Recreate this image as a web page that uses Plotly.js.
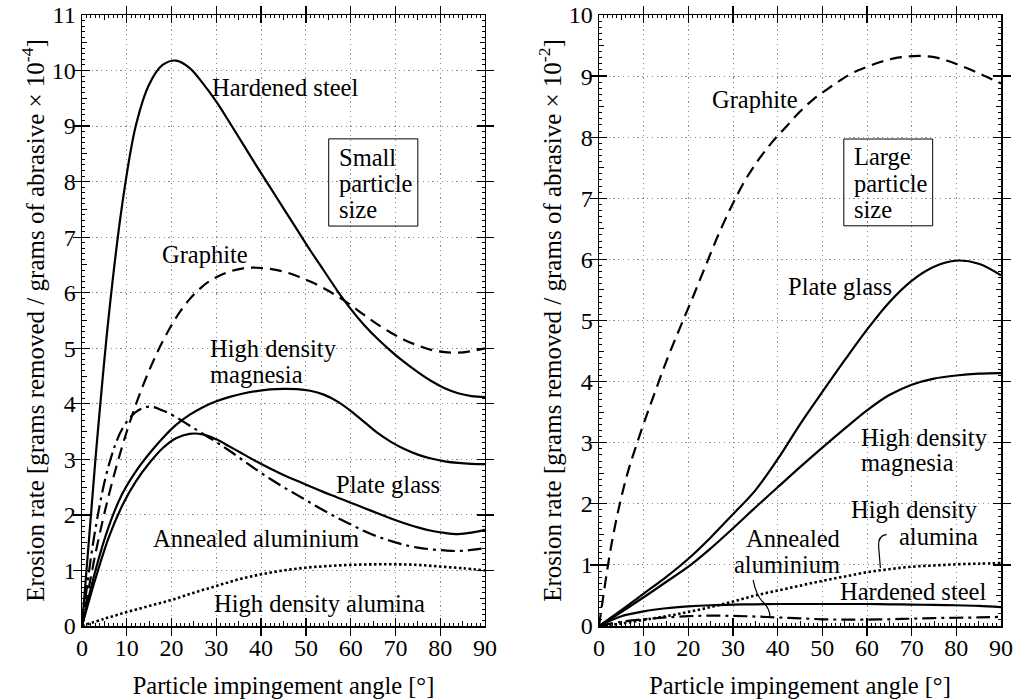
<!DOCTYPE html>
<html>
<head>
<meta charset="utf-8">
<script src="https://cdn.plot.ly/plotly-3.0.1.min.js"></script>
<style>html,body{margin:0;padding:0;background:#fff;}</style>
</head>
<body>
<div id="chart" style="width:1014px;height:699px;"></div>
<script>
// ---------- Left panel: small particle size (x 10^-4) ----------
const smallAngles = [0,3,6,9,12,15,18,21,24,27,30,33,36,39,42,45,48,51,54,57,60,63,66,69,72,75,78,81,84,87,90];
const smallSteelY = [0,3.0,5.6,7.6,9.0,9.75,10.1,10.18,10.05,9.77,9.44,9.06,8.67,8.28,7.9,7.52,7.14,6.76,6.4,6.04,5.71,5.42,5.17,4.95,4.75,4.57,4.41,4.28,4.19,4.14,4.12];
const smallGraphiteY = [0,1.3,2.36,3.24,3.98,4.6,5.12,5.55,5.88,6.12,6.28,6.38,6.44,6.45,6.43,6.38,6.3,6.2,6.08,5.94,5.78,5.6,5.43,5.28,5.15,5.05,4.97,4.93,4.92,4.95,5.0];
const smallMagnesiaY = [0,1.0,1.8,2.38,2.78,3.1,3.38,3.62,3.8,3.94,4.045,4.125,4.185,4.23,4.26,4.27,4.265,4.235,4.165,4.045,3.875,3.675,3.475,3.315,3.185,3.085,3.015,2.965,2.935,2.92,2.915];
const smallGlassY = [0,0.85,1.6,2.17,2.6,2.93,3.2,3.38,3.46,3.45,3.36,3.23,3.095,2.96,2.835,2.72,2.615,2.51,2.41,2.315,2.22,2.125,2.03,1.935,1.85,1.775,1.715,1.675,1.655,1.68,1.73];
const smallAluminiumY = [0,1.75,2.9,3.55,3.85,3.95,3.88,3.76,3.61,3.46,3.31,3.15,2.98,2.81,2.65,2.5,2.36,2.22,2.08,1.95,1.83,1.71,1.61,1.53,1.46,1.41,1.38,1.36,1.35,1.37,1.4];

const aluminaAngles = [0,5,10,15,20,25,30,35,40,45,50,55,60,65,70,75,80,85,90];
const smallAluminaY = [0,0.13,0.25,0.36,0.47,0.6,0.72,0.84,0.93,1.0,1.05,1.08,1.1,1.11,1.11,1.1,1.07,1.04,1.0];

// ---------- Right panel: large particle size (x 10^-2) ----------
const largeGraphiteX = [0,3,6,9,12,15,18,21,24,27,30,33,36,39,42,45,48,51,54,57,60,63,66,69,72,75,78,81,84,87,90];
const largeGraphiteY = [0,1.42,2.4,3.1,3.72,4.32,4.86,5.38,5.92,6.45,6.92,7.33,7.66,7.94,8.18,8.42,8.62,8.78,8.93,9.06,9.15,9.23,9.29,9.32,9.33,9.31,9.25,9.17,9.08,8.98,8.88];

const largeAngles = [0,5,10,15,20,25,30,35,40,45,50,55,60,65,70,75,80,85,90];
const largeGlassY = [0,0.26,0.53,0.8,1.1,1.45,1.83,2.22,2.73,3.3,3.83,4.35,4.85,5.3,5.65,5.88,5.98,5.93,5.74];
const largeMagnesiaY = [0,0.23,0.47,0.72,0.97,1.27,1.6,1.94,2.27,2.6,2.92,3.23,3.53,3.78,3.95,4.05,4.1,4.13,4.14];
const largeAluminaY = [0,0.04,0.1,0.16,0.23,0.31,0.4,0.5,0.58,0.66,0.74,0.81,0.88,0.93,0.97,0.99,1.01,1.02,1.03];
const largeSteelY = [0,0.16,0.24,0.29,0.32,0.34,0.35,0.355,0.36,0.36,0.36,0.36,0.36,0.355,0.35,0.345,0.34,0.33,0.31];
const largeAluminiumY = [0,0.07,0.11,0.14,0.16,0.17,0.165,0.155,0.14,0.125,0.11,0.105,0.105,0.11,0.12,0.13,0.135,0.14,0.15];

const xTickVals = [0,10,20,30,40,50,60,70,80,90];
const yTickValsLeft = [0,1,2,3,4,5,6,7,8,9,10,11];
const yTickValsRight = [0,1,2,3,4,5,6,7,8,9,10];

const FONT = 'Liberation Serif, Times New Roman, serif';
const solid = {color:'#000', width:2.2, shape:'spline', smoothing:1};
const dashed = {color:'#000', width:2.2, dash:'12px,7px', shape:'spline', smoothing:1};
const dashdot = {color:'#000', width:2.2, dash:'14px,5px,3px,5px', shape:'spline', smoothing:1};
const dotted = {color:'#000', width:2.6, dash:'2.5px,2.5px', shape:'spline', smoothing:1};

function tr(x, y, line, xa, ya, name){
  return {x:x, y:y, type:'scatter', mode:'lines', line:line, xaxis:xa, yaxis:ya, name:name, hoverinfo:'skip'};
}
function dummy(xa, ya){
  return {x:[0], y:[0], type:'scatter', mode:'markers', marker:{opacity:0, size:1}, xaxis:xa, yaxis:ya, hoverinfo:'skip'};
}

const data = [
  tr(smallAngles, smallSteelY, solid, 'x', 'y', 'Hardened steel'),
  tr(smallAngles, smallGraphiteY, dashed, 'x', 'y', 'Graphite'),
  tr(smallAngles, smallMagnesiaY, solid, 'x', 'y', 'High density magnesia'),
  tr(smallAngles, smallGlassY, solid, 'x', 'y', 'Plate glass'),
  tr(smallAngles, smallAluminiumY, dashdot, 'x', 'y', 'Annealed aluminium'),
  tr(aluminaAngles, smallAluminaY, dotted, 'x', 'y', 'High density alumina'),
  tr(largeGraphiteX, largeGraphiteY, dashed, 'x2', 'y2', 'Graphite'),
  tr(largeAngles, largeGlassY, solid, 'x2', 'y2', 'Plate glass'),
  tr(largeAngles, largeMagnesiaY, solid, 'x2', 'y2', 'High density magnesia'),
  tr(largeAngles, largeAluminaY, dotted, 'x2', 'y2', 'High density alumina'),
  tr(largeAngles, largeSteelY, solid, 'x2', 'y2', 'Hardened steel'),
  tr(largeAngles, largeAluminiumY, dashdot, 'x2', 'y2', 'Annealed aluminium'),
  dummy('x3','y'), dummy('x','y3'), dummy('x4','y2'), dummy('x2','y4')
];

const gridStyle = {showgrid:true, gridcolor:'#8a8a8a', griddash:'1.2px,3.6px', gridwidth:1};

function xAxis(domain, anchor){
  return Object.assign({
    domain:domain, anchor:anchor, range:[0,90], autorange:false, tickvals:xTickVals, ticktext:xTickVals.map(String),
    ticks:'inside', ticklen:8, tickwidth:1.3, tickcolor:'#000',
    showline:true, linecolor:'#000', linewidth:1.5, mirror:'allticks',
    zeroline:false, tickfont:{family:FONT, size:24, color:'#000'},
    title:{text:'Particle impingement angle [°]', font:{family:FONT, size:24.5, color:'#000'}, standoff:16},
    fixedrange:true
  }, gridStyle);
}
function yAxis(range, vals, anchor, exp){
  return Object.assign({
    anchor:anchor, range:range, autorange:false, tickvals:vals, ticktext:vals.map(String),
    ticks:'inside', ticklen:8, tickwidth:1.3, tickcolor:'#000',
    showline:true, linecolor:'#000', linewidth:1.5, mirror:'allticks',
    zeroline:false, tickfont:{family:FONT, size:24, color:'#000'},
    title:{text:'Erosion rate [grams removed / grams of abrasive × 10<sup>'+exp+'</sup>]', font:{family:FONT, size:25, color:'#000'}, standoff:0},
    fixedrange:true
  }, gridStyle);
}
// secondary axes carrying the medium and small ticks
function xMinor(overlay, anchor){
  return {overlaying:overlay, anchor:anchor, side:'bottom', range:[0,90], autorange:false,
    tickmode:'linear', tick0:0, dtick:5, ticks:'inside', ticklen:5, tickwidth:1, tickcolor:'#000',
    showticklabels:false, showgrid:false, zeroline:false, showline:true, linecolor:'#000', linewidth:1.5, mirror:'allticks',
    minor:{tick0:0, dtick:1, ticks:'inside', ticklen:3, tickwidth:1, tickcolor:'#000', showgrid:false},
    fixedrange:true};
}
function yMinor(overlay, anchor, range){
  return {overlaying:overlay, anchor:anchor, side:'left', range:range, autorange:false,
    tickmode:'linear', tick0:0, dtick:0.5, ticks:'inside', ticklen:5, tickwidth:1, tickcolor:'#000',
    showticklabels:false, showgrid:false, zeroline:false, showline:true, linecolor:'#000', linewidth:1.5, mirror:'allticks',
    minor:{tick0:0, dtick:0.1, ticks:'inside', ticklen:3, tickwidth:1, tickcolor:'#000', showgrid:false},
    fixedrange:true};
}

const FS = 24.5;
const af = {family:FONT, size:FS, color:'#000'};
function ann(xref, yref, x, y, text, xanchor){
  return {xref:xref, yref:yref, x:x, y:y, text:text, showarrow:false, font:af,
          xanchor:xanchor||'center', yanchor:'middle'};
}

const annotations = [
  ann('x','y',45.3,9.69,'Hardened steel'),
  ann('x','y',27.5,6.68,'Graphite'),
  ann('x','y',28.1,4.99,'High density','left'),
  ann('x','y',28.1,4.52,'magnesia','left'),
  ann('x','y',68.3,2.54,'Plate glass'),
  ann('x','y',38.8,1.58,'Annealed aluminium'),
  ann('x','y',53.1,0.41,'High density alumina'),
  ann('x','y',56.9,8.44,'Small','left'),
  ann('x','y',56.9,7.97,'particle','left'),
  ann('x','y',56.9,7.49,'size','left'),

  ann('x2','y2',34.9,8.61,'Graphite'),
  ann('x2','y2',53.9,5.55,'Plate glass'),
  ann('x2','y2',58.2,3.09,'High density','left'),
  ann('x2','y2',58.2,2.68,'magnesia','left'),
  ann('x2','y2',85.2,1.9,'High density','right'),
  ann('x2','y2',85.2,1.46,'alumina','right'),
  ann('x2','y2',54.4,1.44,'Annealed','right'),
  ann('x2','y2',54.4,1.01,'aluminium','right'),
  ann('x2','y2',70.3,0.56,'Hardened steel'),
  ann('x2','y2',56.6,7.68,'Large','left'),
  ann('x2','y2',56.6,7.25,'particle','left'),
  ann('x2','y2',56.6,6.81,'size','left')
];

const shapes = [
  {type:'rect', xref:'x', yref:'y', x0:55.1, x1:75.0, y0:7.2, y1:8.77, line:{color:'#000', width:1}, fillcolor:'rgba(255,255,255,0)', layer:'above'},
  {type:'rect', xref:'x2', yref:'y2', x0:54.8, x1:74.7, y0:6.55, y1:7.97, line:{color:'#000', width:1}, fillcolor:'rgba(255,255,255,0)', layer:'above'},
  {type:'path', xref:'x2', yref:'y2', path:'M 64.4,1.5 Q 62.4,1.48 62.6,1.3 L 63.0,0.95', line:{color:'#000', width:1.2}},
  {type:'path', xref:'x2', yref:'y2', path:'M 34.5,0.75 Q 35.2,0.5 36.6,0.4 Q 38.2,0.3 38.3,0.14', line:{color:'#000', width:1.2}}
];

const layout = {
  width:1014, height:699,
  margin:{l:82, r:13, t:15, b:73},
  paper_bgcolor:'#fff', plot_bgcolor:'rgba(0,0,0,0)',
  showlegend:false,
  font:{family:FONT, color:'#000'},
  xaxis:xAxis([0,0.4385],'y'),
  yaxis:yAxis([0,11], yTickValsLeft, 'x', '-4'),
  xaxis2:xAxis([0.5626,1],'y2'),
  yaxis2:yAxis([0,10], yTickValsRight, 'x2', '-2'),
  xaxis3:xMinor('x','y'),
  yaxis3:yMinor('y','x',[0,11]),
  xaxis4:xMinor('x2','y2'),
  yaxis4:yMinor('y2','x2',[0,10]),
  annotations:annotations,
  shapes:shapes
};

Plotly.newPlot('chart', data, layout, {displayModeBar:false, staticPlot:true});
</script>
</body>
</html>
